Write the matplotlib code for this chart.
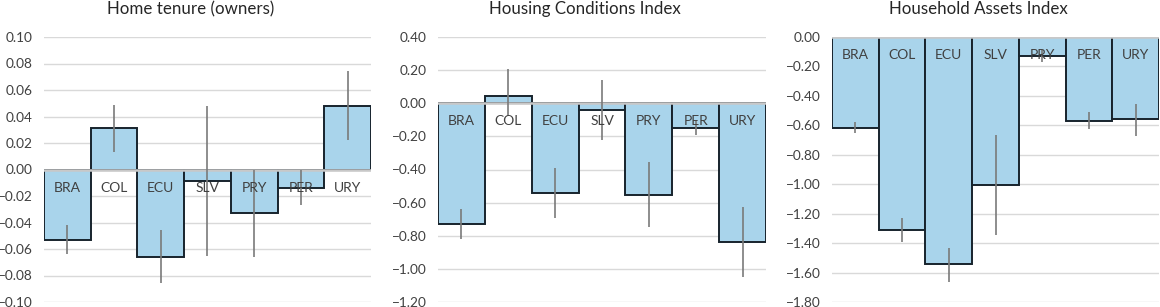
import matplotlib
matplotlib.use("Agg")
import matplotlib.pyplot as plt
import numpy as np

plt.rcParams['font.family'] = ['Lato', 'DejaVu Sans']

categories = ["BRA", "COL", "ECU", "SLV", "PRY", "PER", "URY"]

titles = ["Home tenure (owners)", "Housing Conditions Index", "Household Assets Index"]

tenure_vals = [-0.053, 0.031, -0.066, -0.0085, -0.033, -0.014, 0.048]
tenure_lo = [-0.064, 0.0133, -0.086, -0.065, -0.066, -0.027, 0.022]
tenure_hi = [-0.042, 0.0487, -0.046, 0.048, 0.000, 0.000, 0.074]

housing_vals = [-0.73, 0.044, -0.54, -0.04, -0.555, -0.152, -0.838]
housing_lo = [-0.82, -0.078, -0.69, -0.223, -0.75, -0.192, -1.05]
housing_hi = [-0.64, 0.209, -0.393, 0.138, -0.357, -0.108, -0.627]

assets_vals = [-0.616, -1.308, -1.545, -1.004, -0.131, -0.568, -0.559]
assets_lo = [-0.654, -1.39, -1.665, -1.342, -0.173, -0.625, -0.67]
assets_hi = [-0.58, -1.23, -1.43, -0.665, -0.09, -0.512, -0.457]

tenure_ticks = [-0.10, -0.08, -0.06, -0.04, -0.02, 0.00, 0.02, 0.04, 0.06, 0.08, 0.10]
housing_ticks = [-1.20, -1.00, -0.80, -0.60, -0.40, -0.20, 0.00, 0.20, 0.40]
assets_ticks = [-1.80, -1.60, -1.40, -1.20, -1.00, -0.80, -0.60, -0.40, -0.20, 0.00]

panels = [
    (titles[0], tenure_vals, tenure_lo, tenure_hi, tenure_ticks),
    (titles[1], housing_vals, housing_lo, housing_hi, housing_ticks),
    (titles[2], assets_vals, assets_lo, assets_hi, assets_ticks),
]

W, H = 1160, 307
fig = plt.figure(figsize=(W / 100, H / 100), dpi=100)

axes_px = [(44, 371), (438, 766), (832, 1159)]
top_px, bot_px = 37, 302

bar_color = "#A9D4EB"
edge_color = "#17232C"
text_color = "#404040"

for (title, vals, lo, hi, ticks), (x0, x1) in zip(panels, axes_px):
    ax = fig.add_axes([x0 / W, 1 - bot_px / H, (x1 - x0) / W, (bot_px - top_px) / H])
    x = np.arange(len(categories))
    vals = np.array(vals)
    yerr = np.vstack([vals - np.array(lo), np.array(hi) - vals])
    ax.bar(x, vals, width=1.0, color=bar_color, edgecolor=edge_color, linewidth=1.4, zorder=2)
    ax.axhline(0, color="#C8C8C8", linewidth=1.8, zorder=3)
    ax.errorbar(x, vals, yerr=yerr, fmt="none", ecolor="#7A7A7A", elinewidth=1.2, capsize=0, zorder=4)
    for xi, c in zip(x, categories):
        ax.annotate(c, (xi, 0), xytext=(0, -13), textcoords="offset points",
                    ha="center", va="center", fontsize=10, color=text_color, zorder=5)
    ax.set_xlim(-0.5, len(categories) - 0.5)
    ax.set_ylim(ticks[0], ticks[-1])
    ax.set_yticks(ticks)
    ax.set_yticklabels([f"{t:.2f}".replace("-", "\u2212") for t in ticks])
    ax.set_xticks([])
    ax.tick_params(axis="y", length=0, pad=8, labelsize=9.8, labelcolor=text_color)
    ax.yaxis.grid(True, color="#D9D9D9", linewidth=1.0, zorder=0)
    ax.set_axisbelow(True)
    for s in ax.spines.values():
        s.set_visible(False)
    ax.patch.set_visible(False)
    cx = ((x0 + x1) / 2 - 17) / W
    fig.text(cx, 1 - 9 / H, title, ha="center", va="center", fontsize=12.2, color="#262626")

fig.savefig("out.png", dpi=100)
